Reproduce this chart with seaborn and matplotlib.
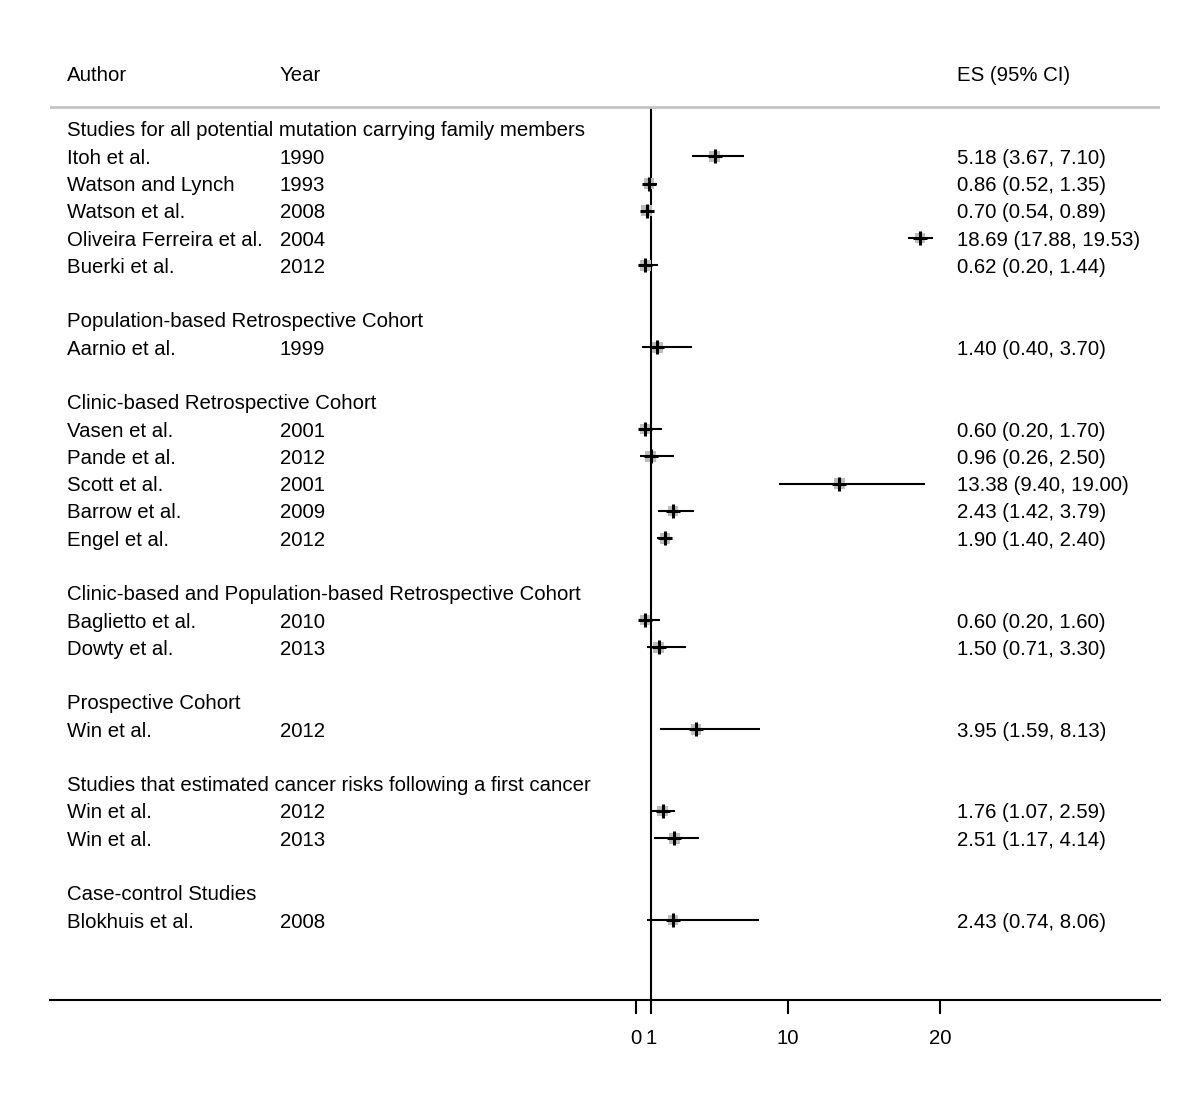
import numpy as np
import pandas as pd
import matplotlib
matplotlib.use('Agg')
import matplotlib.pyplot as plt
import seaborn as sns

# rows: group headers and studies (row index = position in the list)
groups = ['Studies for all potential mutation carrying family members',
          'Population-based Retrospective Cohort',
          'Clinic-based Retrospective Cohort',
          'Clinic-based and Population-based Retrospective Cohort',
          'Prospective Cohort',
          'Studies that estimated cancer risks following a first cancer',
          'Case-control Studies']
group_rows = [0, 7, 10, 17, 21, 24, 28]

authors = ['Itoh et al.', 'Watson and Lynch', 'Watson et al.', 'Oliveira Ferreira et al.', 'Buerki et al.',
           'Aarnio et al.',
           'Vasen et al.', 'Pande et al.', 'Scott et al.', 'Barrow et al.', 'Engel et al.',
           'Baglietto et al.', 'Dowty et al.',
           'Win et al.',
           'Win et al.', 'Win et al.',
           'Blokhuis et al.']
years = ['1990', '1993', '2008', '2004', '2012',
         '1999',
         '2001', '2012', '2001', '2009', '2012',
         '2010', '2013',
         '2012',
         '2012', '2013',
         '2008']
es = [5.18, 0.86, 0.70, 18.69, 0.62,
      1.40,
      0.60, 0.96, 13.38, 2.43, 1.90,
      0.60, 1.50,
      3.95,
      1.76, 2.51,
      2.43]
lo = [3.67, 0.52, 0.54, 17.88, 0.20,
      0.40,
      0.20, 0.26, 9.40, 1.42, 1.40,
      0.20, 0.71,
      1.59,
      1.07, 1.17,
      0.74]
hi = [7.10, 1.35, 0.89, 19.53, 1.44,
      3.70,
      1.70, 2.50, 19.00, 3.79, 2.40,
      1.60, 3.30,
      8.13,
      2.59, 4.14,
      8.06]
study_rows = [1, 2, 3, 4, 5,
              8,
              11, 12, 13, 14, 15,
              18, 19,
              22,
              25, 26,
              29]
xticks = [0, 1, 10, 20]

df = pd.DataFrame({'author': authors, 'year': years, 'es': es, 'lo': lo, 'hi': hi, 'row': study_rows})

sns.set_style('white')
plt.rcParams['font.family'] = ['Liberation Sans', 'DejaVu Sans']
plt.rcParams['text.color'] = 'black'
plt.rcParams['xtick.color'] = 'black'
FS = 14.7

W, H = 1200, 1104
fig = plt.figure(figsize=(W / 100, H / 100), dpi=100)
# axes: left 50px, right 1160px, top 60px, bottom 1000px
ax = fig.add_axes([50 / W, (H - 1000) / H, 1110 / W, 940 / H])

# pixel -> data mapping on x (0 at 636px, 20 at 940px)
x0, scale = 636.0, 15.2
def px2x(px):
    return (px - x0) / scale

ax.set_xlim(px2x(50), px2x(1160))
row0, step = 129.0, 27.28
def px2row(py):
    return (py - row0) / step
ax.set_ylim(px2row(1000), px2row(60))

# CI lines
ax.hlines(df['row'], df['lo'], df['hi'], color='black', lw=1.5, zorder=2)
sns.scatterplot(data=df, x='es', y='row', marker='s', s=60, color='#bdbdbd',
                edgecolor='none', ax=ax, zorder=3, legend=False)
sns.scatterplot(data=df, x='es', y='row', marker='+', s=110, color='black',
                linewidth=2.2, ax=ax, zorder=4, legend=False)

# null line and header separator
ax.vlines(1, px2row(107), px2row(1000), color='black', lw=1.5, zorder=1)
ax.axhline(px2row(107), color='#c4c4c4', lw=2)

# text columns
tkw = dict(fontsize=FS, va='center_baseline', ha='left', color='black')
hdr = px2row(74)
ax.text(px2x(67), hdr, 'Author', **tkw)
ax.text(px2x(280), hdr, 'Year', **tkw)
ax.text(px2x(957), hdr, 'ES (95% CI)', **tkw)
for g, r in zip(groups, group_rows):
    ax.text(px2x(67), r, g, **tkw)
for _, d in df.iterrows():
    ax.text(px2x(67), d['row'], d['author'], **tkw)
    ax.text(px2x(280), d['row'], d['year'], **tkw)
    ax.text(px2x(957), d['row'], f"{d['es']:.2f} ({d['lo']:.2f}, {d['hi']:.2f})", **tkw)

ax.set_xticks(xticks)
ax.set_xticklabels([str(t) for t in xticks], fontsize=FS)
ax.tick_params(axis='x', direction='out', length=10, width=1.5, color='black', pad=11,
               bottom=True, labelcolor='black')
ax.set_yticks([])
ax.set_xlabel('')
ax.set_ylabel('')
for s in ['top', 'left', 'right']:
    ax.spines[s].set_visible(False)
ax.spines['bottom'].set_linewidth(1.5)
ax.spines['bottom'].set_color('black')
ax.patch.set_alpha(0)

fig.savefig('out.png', dpi=100, facecolor='white')
